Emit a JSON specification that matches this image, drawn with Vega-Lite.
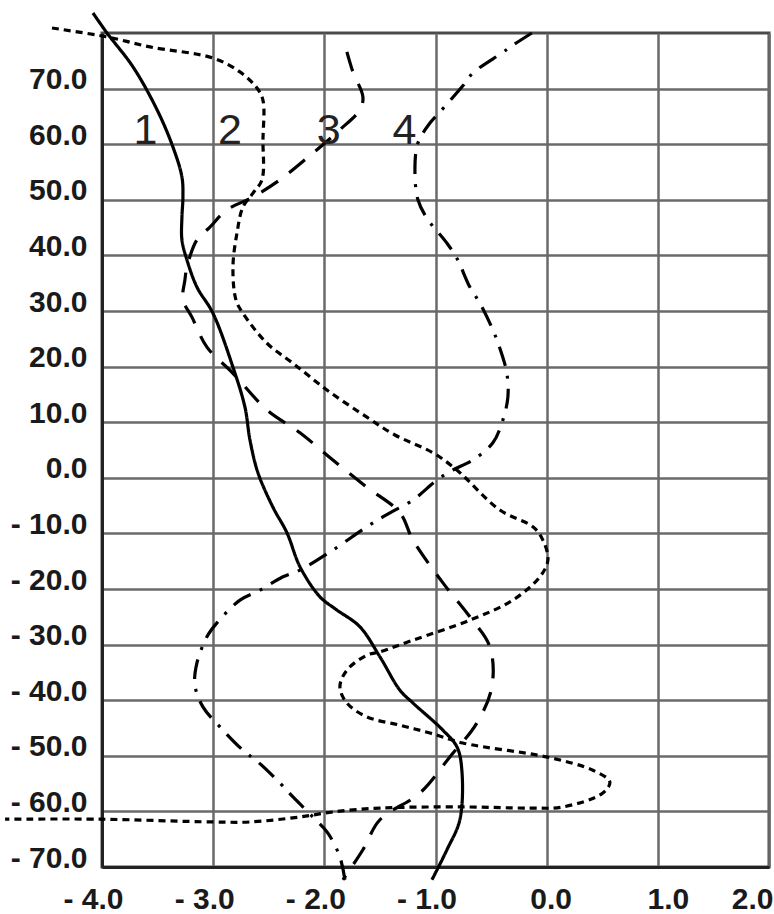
{
  "$schema": "https://vega.github.io/schema/vega-lite/v6.json",
  "width": 667,
  "height": 834,
  "autosize": {"type": "none"},
  "padding": {"left": 102, "top": 33, "right": 5, "bottom": 47},
  "background": "white",
  "config": {
    "view": {"stroke": "#4a4a4a", "strokeWidth": 3},
    "axis": {
      "ticks": false,
      "grid": true,
      "gridColor": "#6a6a6a",
      "gridWidth": 2.5,
      "domain": true,
      "domainColor": "#222222",
      "domainWidth": 3,
      "labelFont": "Liberation Sans",
      "labelFontWeight": "bold",
      "labelFontSize": 30,
      "labelColor": "#1a1a1a",
      "labelFlush": false,
      "labelOverlap": false,
      "title": null
    }
  },
  "datasets": {
    "curves": [
      {"s": "1", "i": 0, "x": -4.081, "y": 83.6},
      {"s": "1", "i": 1, "x": -3.955, "y": 80.0},
      {"s": "1", "i": 2, "x": -3.721, "y": 73.9},
      {"s": "1", "i": 3, "x": -3.505, "y": 66.2},
      {"s": "1", "i": 4, "x": -3.362, "y": 59.5},
      {"s": "1", "i": 5, "x": -3.281, "y": 54.1},
      {"s": "1", "i": 6, "x": -3.272, "y": 50.5},
      {"s": "1", "i": 7, "x": -3.281, "y": 46.9},
      {"s": "1", "i": 8, "x": -3.281, "y": 42.8},
      {"s": "1", "i": 9, "x": -3.236, "y": 39.2},
      {"s": "1", "i": 10, "x": -3.146, "y": 34.3},
      {"s": "1", "i": 11, "x": -3.002, "y": 29.6},
      {"s": "1", "i": 12, "x": -2.822, "y": 19.9},
      {"s": "1", "i": 13, "x": -2.714, "y": 12.7},
      {"s": "1", "i": 14, "x": -2.669, "y": 6.8},
      {"s": "1", "i": 15, "x": -2.597, "y": 0.9},
      {"s": "1", "i": 16, "x": -2.462, "y": -5.3},
      {"s": "1", "i": 17, "x": -2.336, "y": -9.9},
      {"s": "1", "i": 18, "x": -2.219, "y": -16.0},
      {"s": "1", "i": 19, "x": -2.04, "y": -21.4},
      {"s": "1", "i": 20, "x": -1.9, "y": -23.6},
      {"s": "1", "i": 21, "x": -1.68, "y": -26.8},
      {"s": "1", "i": 22, "x": -1.5, "y": -32.2},
      {"s": "1", "i": 23, "x": -1.32, "y": -38.2},
      {"s": "1", "i": 24, "x": -1.203, "y": -40.5},
      {"s": "1", "i": 25, "x": -0.933, "y": -45.4},
      {"s": "1", "i": 26, "x": -0.807, "y": -48.4},
      {"s": "1", "i": 27, "x": -0.763, "y": -52.6},
      {"s": "1", "i": 28, "x": -0.781, "y": -61.5},
      {"s": "1", "i": 29, "x": -0.897, "y": -66.9},
      {"s": "1", "i": 30, "x": -1.032, "y": -72.3},

      {"s": "2", "i": 0, "x": -4.45, "y": 80.9},
      {"s": "2", "i": 1, "x": -3.955, "y": 79.3},
      {"s": "2", "i": 2, "x": -3.568, "y": 77.5},
      {"s": "2", "i": 3, "x": -3.002, "y": 75.5},
      {"s": "2", "i": 4, "x": -2.759, "y": 73.0},
      {"s": "2", "i": 5, "x": -2.606, "y": 70.1},
      {"s": "2", "i": 6, "x": -2.552, "y": 67.9},
      {"s": "2", "i": 7, "x": -2.552, "y": 60.8},
      {"s": "2", "i": 8, "x": -2.561, "y": 53.6},
      {"s": "2", "i": 9, "x": -2.642, "y": 51.2},
      {"s": "2", "i": 10, "x": -2.732, "y": 48.7},
      {"s": "2", "i": 11, "x": -2.786, "y": 44.0},
      {"s": "2", "i": 12, "x": -2.822, "y": 37.9},
      {"s": "2", "i": 13, "x": -2.795, "y": 32.0},
      {"s": "2", "i": 14, "x": -2.732, "y": 29.6},
      {"s": "2", "i": 15, "x": -2.516, "y": 24.2},
      {"s": "2", "i": 16, "x": -2.282, "y": 20.6},
      {"s": "2", "i": 17, "x": -1.977, "y": 15.8},
      {"s": "2", "i": 18, "x": -1.617, "y": 10.9},
      {"s": "2", "i": 19, "x": -1.365, "y": 7.7},
      {"s": "2", "i": 20, "x": -1.023, "y": 4.5},
      {"s": "2", "i": 21, "x": -0.808, "y": 1.4},
      {"s": "2", "i": 22, "x": -0.421, "y": -5.8},
      {"s": "2", "i": 23, "x": -0.124, "y": -8.8},
      {"s": "2", "i": 24, "x": -0.034, "y": -11.2},
      {"s": "2", "i": 25, "x": 0.011, "y": -14.8},
      {"s": "2", "i": 26, "x": -0.061, "y": -17.8},
      {"s": "2", "i": 27, "x": -0.304, "y": -22.0},
      {"s": "2", "i": 28, "x": -0.691, "y": -25.6},
      {"s": "2", "i": 29, "x": -1.203, "y": -29.2},
      {"s": "2", "i": 30, "x": -1.5, "y": -31.3},
      {"s": "2", "i": 31, "x": -1.617, "y": -31.9},
      {"s": "2", "i": 32, "x": -1.797, "y": -34.6},
      {"s": "2", "i": 33, "x": -1.86, "y": -37.6},
      {"s": "2", "i": 34, "x": -1.797, "y": -40.5},
      {"s": "2", "i": 35, "x": -1.617, "y": -43.0},
      {"s": "2", "i": 36, "x": -1.32, "y": -44.5},
      {"s": "2", "i": 37, "x": -1.05, "y": -45.9},
      {"s": "2", "i": 38, "x": -0.754, "y": -47.7},
      {"s": "2", "i": 39, "x": -0.002, "y": -50.2},
      {"s": "2", "i": 40, "x": 0.416, "y": -52.6},
      {"s": "2", "i": 41, "x": 0.568, "y": -54.7},
      {"s": "2", "i": 42, "x": 0.505, "y": -56.7},
      {"s": "2", "i": 43, "x": 0.146, "y": -59.2},
      {"s": "2", "i": 44, "x": -0.151, "y": -59.4},
      {"s": "2", "i": 45, "x": -0.754, "y": -59.2},
      {"s": "2", "i": 46, "x": -1.5, "y": -59.4},
      {"s": "2", "i": 47, "x": -1.923, "y": -60.1},
      {"s": "2", "i": 48, "x": -2.219, "y": -61.0},
      {"s": "2", "i": 49, "x": -2.669, "y": -61.9},
      {"s": "2", "i": 50, "x": -3.002, "y": -61.9},
      {"s": "2", "i": 51, "x": -4.018, "y": -61.4},
      {"s": "2", "i": 52, "x": -4.872, "y": -61.4},

      {"s": "3", "i": 0, "x": -1.797, "y": 76.6},
      {"s": "3", "i": 1, "x": -1.743, "y": 73.0},
      {"s": "3", "i": 2, "x": -1.653, "y": 68.5},
      {"s": "3", "i": 3, "x": -1.68, "y": 66.2},
      {"s": "3", "i": 4, "x": -1.86, "y": 62.6},
      {"s": "3", "i": 5, "x": -2.103, "y": 58.4},
      {"s": "3", "i": 6, "x": -2.399, "y": 53.6},
      {"s": "3", "i": 7, "x": -2.642, "y": 50.5},
      {"s": "3", "i": 8, "x": -2.876, "y": 48.2},
      {"s": "3", "i": 9, "x": -3.029, "y": 45.1},
      {"s": "3", "i": 10, "x": -3.146, "y": 42.8},
      {"s": "3", "i": 11, "x": -3.236, "y": 37.9},
      {"s": "3", "i": 12, "x": -3.254, "y": 35.6},
      {"s": "3", "i": 13, "x": -3.272, "y": 32.0},
      {"s": "3", "i": 14, "x": -3.191, "y": 28.9},
      {"s": "3", "i": 15, "x": -3.056, "y": 23.5},
      {"s": "3", "i": 16, "x": -2.822, "y": 18.8},
      {"s": "3", "i": 17, "x": -2.516, "y": 12.2},
      {"s": "3", "i": 18, "x": -2.219, "y": 8.1},
      {"s": "3", "i": 19, "x": -1.923, "y": 3.2},
      {"s": "3", "i": 20, "x": -1.617, "y": -1.7},
      {"s": "3", "i": 21, "x": -1.32, "y": -6.3},
      {"s": "3", "i": 22, "x": -1.203, "y": -11.2},
      {"s": "3", "i": 23, "x": -0.933, "y": -18.9},
      {"s": "3", "i": 24, "x": -0.691, "y": -25.0},
      {"s": "3", "i": 25, "x": -0.511, "y": -30.4},
      {"s": "3", "i": 26, "x": -0.493, "y": -37.6},
      {"s": "3", "i": 27, "x": -0.628, "y": -44.1},
      {"s": "3", "i": 28, "x": -0.871, "y": -50.2},
      {"s": "3", "i": 29, "x": -1.14, "y": -56.7},
      {"s": "3", "i": 30, "x": -1.5, "y": -61.5},
      {"s": "3", "i": 31, "x": -1.653, "y": -66.9},
      {"s": "3", "i": 32, "x": -1.833, "y": -72.3},

      {"s": "4", "i": 0, "x": -0.133, "y": 80.0},
      {"s": "4", "i": 1, "x": -0.304, "y": 77.8},
      {"s": "4", "i": 2, "x": -0.403, "y": 76.4},
      {"s": "4", "i": 3, "x": -0.664, "y": 72.8},
      {"s": "4", "i": 4, "x": -0.754, "y": 70.5},
      {"s": "4", "i": 5, "x": -0.96, "y": 65.8},
      {"s": "4", "i": 6, "x": -1.05, "y": 63.8},
      {"s": "4", "i": 7, "x": -1.158, "y": 60.2},
      {"s": "4", "i": 8, "x": -1.185, "y": 55.4},
      {"s": "4", "i": 9, "x": -1.158, "y": 50.0},
      {"s": "4", "i": 10, "x": -1.077, "y": 46.7},
      {"s": "4", "i": 11, "x": -0.897, "y": 42.2},
      {"s": "4", "i": 12, "x": -0.808, "y": 39.5},
      {"s": "4", "i": 13, "x": -0.691, "y": 34.3},
      {"s": "4", "i": 14, "x": -0.601, "y": 31.4},
      {"s": "4", "i": 15, "x": -0.484, "y": 26.6},
      {"s": "4", "i": 16, "x": -0.421, "y": 23.3},
      {"s": "4", "i": 17, "x": -0.358, "y": 18.8},
      {"s": "4", "i": 18, "x": -0.349, "y": 14.5},
      {"s": "4", "i": 19, "x": -0.394, "y": 10.4},
      {"s": "4", "i": 20, "x": -0.484, "y": 6.3},
      {"s": "4", "i": 21, "x": -0.664, "y": 3.2},
      {"s": "4", "i": 22, "x": -0.843, "y": 1.4},
      {"s": "4", "i": 23, "x": -0.987, "y": -0.4},
      {"s": "4", "i": 24, "x": -1.203, "y": -4.0},
      {"s": "4", "i": 25, "x": -1.41, "y": -6.3},
      {"s": "4", "i": 26, "x": -1.617, "y": -8.8},
      {"s": "4", "i": 27, "x": -1.923, "y": -13.0},
      {"s": "4", "i": 28, "x": -2.219, "y": -16.6},
      {"s": "4", "i": 29, "x": -2.372, "y": -17.8},
      {"s": "4", "i": 30, "x": -2.579, "y": -20.2},
      {"s": "4", "i": 31, "x": -2.759, "y": -22.0},
      {"s": "4", "i": 32, "x": -2.966, "y": -26.1},
      {"s": "4", "i": 33, "x": -3.056, "y": -28.6},
      {"s": "4", "i": 34, "x": -3.146, "y": -33.3},
      {"s": "4", "i": 35, "x": -3.164, "y": -37.3},
      {"s": "4", "i": 36, "x": -3.092, "y": -41.2},
      {"s": "4", "i": 37, "x": -2.939, "y": -44.8},
      {"s": "4", "i": 38, "x": -2.732, "y": -49.0},
      {"s": "4", "i": 39, "x": -2.597, "y": -51.1},
      {"s": "4", "i": 40, "x": -2.399, "y": -54.9},
      {"s": "4", "i": 41, "x": -2.282, "y": -57.4},
      {"s": "4", "i": 42, "x": -2.103, "y": -61.0},
      {"s": "4", "i": 43, "x": -1.968, "y": -63.9},
      {"s": "4", "i": 44, "x": -1.86, "y": -68.2},
      {"s": "4", "i": 45, "x": -1.815, "y": -72.3}
    ],
    "labels": [
      {"t": "1", "x": -3.61, "y": 60},
      {"t": "2", "x": -2.85, "y": 60},
      {"t": "3", "x": -1.96, "y": 60},
      {"t": "4", "x": -1.28, "y": 60}
    ]
  },
  "layer": [
    {
      "data": {"name": "curves"},
      "mark": {"type": "line", "color": "black", "strokeWidth": 3.2, "strokeCap": "butt", "interpolate": "catmull-rom"},
      "encoding": {
        "x": {
          "field": "x", "type": "quantitative",
          "scale": {"domain": [-4, 2], "nice": false, "zero": false},
          "axis": {
            "values": [-4, -3, -2, -1, 0, 1, 2],
            "labelExpr": "datum.value < 0 ? '- ' + format(-datum.value, '.1f') : format(datum.value, '.1f')",
            "labelPadding": 17,
            "labelBaseline": "top",
            "labelAlign": {"condition": {"test": "datum.value == 2", "value": "right"}, "value": "center"},
            "labelOffset": {"condition": [{"test": "datum.value < 0", "value": -9}, {"test": "datum.value == 0", "value": 4}, {"test": "datum.value == 1", "value": 10}], "value": 4}
          }
        },
        "y": {
          "field": "y", "type": "quantitative",
          "scale": {"domain": [-70, 80], "nice": false, "zero": false},
          "axis": {
            "values": [-70, -60, -50, -40, -30, -20, -10, 0, 10, 20, 30, 40, 50, 60, 70],
            "labelExpr": "datum.value < 0 ? '- ' + format(-datum.value, '.1f') : format(datum.value, '.1f')",
            "labelPadding": 15,
            "labelBaseline": "alphabetic",
            "labelAlign": "right"
          }
        },
        "strokeDash": {
          "field": "s", "type": "nominal",
          "scale": {"domain": ["1", "2", "3", "4"], "range": [[1, 0], [7, 5], [20, 14], [20, 10, 3, 10]]},
          "legend": null
        },
        "order": {"field": "i", "type": "quantitative"}
      }
    },
    {
      "data": {"name": "labels"},
      "mark": {"type": "text", "font": "Liberation Sans", "fontSize": 43, "color": "#222222", "align": "center", "baseline": "alphabetic"},
      "encoding": {
        "x": {"field": "x", "type": "quantitative"},
        "y": {"field": "y", "type": "quantitative"},
        "text": {"field": "t"}
      }
    }
  ]
}
